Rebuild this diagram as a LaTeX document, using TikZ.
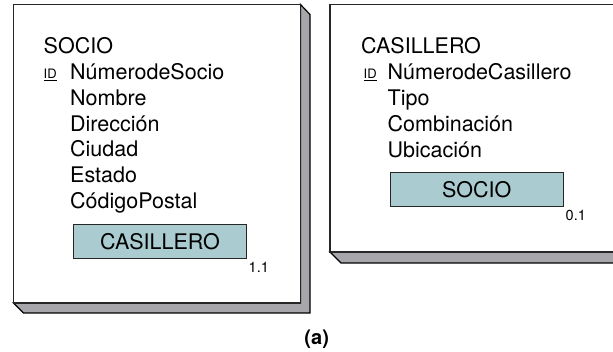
\documentclass[tikz,border=0pt]{standalone}
\usepackage{fontspec}
\setmainfont{TeX Gyre Heros}
\definecolor{sombra}{HTML}{A6A6AB}
\definecolor{enlace}{HTML}{AACBD0}

\begin{document}
\begin{tikzpicture}[x=1pt,y=-1pt,
   titulo/.style={anchor=base west,inner sep=0pt,font=\fontsize{21.5}{25}\selectfont},
   atributo/.style={anchor=base west,inner sep=0pt,font=\fontsize{21.5}{25}\selectfont},
   clave/.style={anchor=base west,inner sep=0pt,font=\fontsize{13}{15}\selectfont},
   caja/.style={draw=black!85,line width=1pt,fill=enlace,inner sep=0pt,font=\fontsize{21.5}{25}\selectfont},
   cardinal/.style={anchor=base west,inner sep=0pt,font=\fontsize{14.5}{17}\selectfont}]
  \useasboundingbox (0,0) rectangle (613,352);
  \clip (0,0) rectangle (613,352);
  % --- SOCIO ---
  \filldraw[fill=sombra,draw=black,line width=1.2pt,line join=miter]
    (13.5,303) -- (23.5,313) -- (310,313) -- (310,14.5) -- (300.5,4.5) -- (300.5,303) -- cycle;
  \draw[fill=white,draw=black!85,line width=1.2pt] (13.5,4.5) rectangle (300.5,303);
  \node[titulo] (socio) at (43.5,54) {SOCIO};
  \node[clave] (socio-id) at (43.5,78.5) {\underline{ID}};
  \foreach \t [count=\i] in {NúmerodeSocio,Nombre,Dirección,Ciudad,Estado,CódigoPostal}
    \node[atributo] (socio-\i) at (70,54+25.7*\i) {\t};
  \node[caja,minimum width=173pt,minimum height=34pt] (socio-ref) at (160,242) {CASILLERO};
  \node[cardinal] (socio-card) at (248.5,272.5) {1.1};
  % --- CASILLERO ---
  \filldraw[fill=sombra,draw=black,line width=1.2pt,line join=miter]
    (330,252) -- (341,263) -- (625,263) -- (625,252) -- cycle;
  \draw[fill=white,draw=black!85,line width=1.2pt] (330,4.5) rectangle (625,252);
  \node[titulo] (casillero) at (361,53.5) {CASILLERO};
  \node[clave] (casillero-id) at (363.5,78.5) {\underline{ID}};
  \foreach \t [count=\i] in {NúmerodeCasillero,Tipo,Combinación,Ubicación}
    \node[atributo] (casillero-\i) at (387.5,53.5+25.9*\i) {\t};
  \node[caja,minimum width=173pt,minimum height=34pt] (casillero-ref) at (476.7,189.7) {SOCIO};
  \node[cardinal] (casillero-card) at (565.5,221) {0.1};
  % --- rotulo ---
  \node[anchor=base,inner sep=0pt,font=\bfseries\fontsize{20}{24}\selectfont] (rotulo) at (316.7,344.5) {(a)};
\end{tikzpicture}
\end{document}
